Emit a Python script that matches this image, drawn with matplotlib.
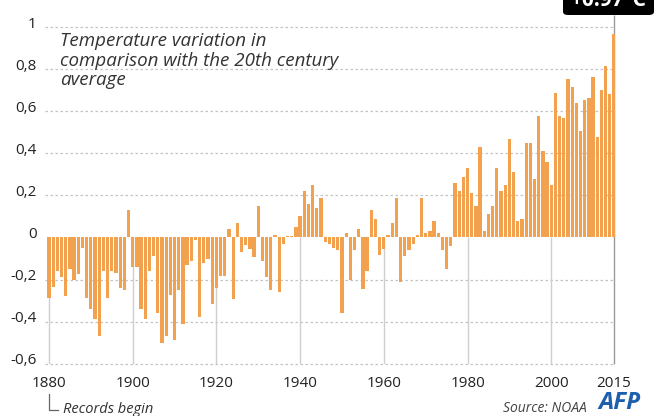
import matplotlib
matplotlib.use("Agg")
import matplotlib.pyplot as plt
from matplotlib.patches import FancyBboxPatch
from matplotlib.transforms import ScaledTranslation

plt.rcParams['font.family'] = ['Open Sans', 'DejaVu Sans']

# temperature anomalies (deg C), one value per year
anom_1880s_1890s = [-0.29, -0.235, -0.16, -0.19, -0.28, -0.15, -0.2, -0.175, -0.05, -0.29,
                    -0.34, -0.39, -0.47, -0.16, -0.29, -0.16, -0.17, -0.24, -0.25, 0.13]
anom_1900s_1910s = [-0.14, -0.14, -0.34, -0.39, -0.16, -0.09, -0.36, -0.5, -0.47, -0.275,
                    -0.49, -0.25, -0.41, -0.13, -0.11, -0.01, -0.38, -0.12, -0.1, -0.315]
anom_1920s_1930s = [-0.24, -0.185, -0.185, 0.04, -0.295, 0.07, -0.07, -0.035, -0.055, -0.095,
                    0.15, -0.11, -0.19, -0.25, 0.01, -0.26, -0.03, 0.005, 0.005, 0.05]
anom_1940s_1950s = [0.1, 0.22, 0.16, 0.25, 0.14, 0.19, -0.02, -0.03, -0.05, -0.06,
                    -0.36, 0.02, -0.2, -0.06, 0.04, -0.245, -0.16, 0.13, 0.09, -0.085]
anom_1960s_1970s = [-0.055, 0.01, 0.07, 0.19, -0.21, -0.09, -0.06, -0.03, 0.01, 0.19,
                    0.02, 0.03, 0.08, 0.02, -0.06, -0.15, -0.04, 0.26, 0.22, 0.29]
anom_1980s_1990s = [0.33, 0.21, 0.15, 0.43, 0.03, 0.11, 0.15, 0.33, 0.22, 0.25,
                    0.47, 0.31, 0.08, 0.09, 0.45, 0.45, 0.28, 0.58, 0.41, 0.36]
anom_2000s_2010s = [0.25, 0.69, 0.58, 0.57, 0.755, 0.715, 0.64, 0.505, 0.655, 0.665,
                    0.765, 0.48, 0.70, 0.815, 0.685, 0.97]

years = list(range(1880, 2016))
anomalies = (anom_1880s_1890s + anom_1900s_1910s + anom_1920s_1930s + anom_1940s_1950s
             + anom_1960s_1970s + anom_1980s_1990s + anom_2000s_2010s)

x_ticks = [1880, 1900, 1920, 1940, 1960, 1980, 2000, 2015]
y_ticks = [-0.6, -0.4, -0.2, 0, 0.2, 0.4, 0.6, 0.8, 1.0]
y_labels = ['-0,6', '-0,4', '-0,2', '0', '0,2', '0,4', '0,6', '0,8', '1']

W, H = 656, 416
fig = plt.figure(figsize=(W / 100, H / 100), dpi=100)
ax = fig.add_axes([44.8 / W, 1 - 363.5 / H, 570.5 / W, 336 / H])
ax.set_xlim(1879.0, 2015.3)
ax.set_ylim(-0.6, 1.0)

for s in ax.spines.values():
    s.set_visible(False)

# dotted gridlines
for y in y_ticks:
    if y != 0:
        ax.axhline(y, color='#c4c4c4', lw=0.9, ls=(0, (2, 2)), zorder=0, clip_on=False)

# vertical year markers from the bottom up to zero
ax.vlines(x_ticks[:-1], -0.6, 0, color='#cfcfcf', lw=1, zorder=0)
ax.vlines(2015, -0.6, 1.06, color='#9a9a9a', lw=1, zorder=0, clip_on=False)

ax.bar(years, anomalies, width=0.78, color='#f2a24e', zorder=2, linewidth=0)

ax.set_xticks(x_ticks)
ax.set_xticklabels([str(t) for t in x_ticks])
ax.set_yticks(y_ticks)
ax.set_yticklabels(y_labels)
ax.tick_params(axis='both', length=0, labelsize=11, colors='#222222')
ax.tick_params(axis='x', pad=9)
ax.tick_params(axis='y', pad=6)
for lab in ax.get_yticklabels():
    lab.set_transform(lab.get_transform() + ScaledTranslation(0, 5 / 100, fig.dpi_scale_trans))

# "Records begin" marker
ax.plot([1880, 1880, 1882.1], [-0.745, -0.82, -0.82], color='#666666', lw=0.9, clip_on=False)
ax.text(1883.3, -0.82, 'Records begin', fontsize=10.5, style='italic', color='#333333',
        va='center', ha='left', clip_on=False)

fig.text(60 / W, 1 - 32 / H, 'Temperature variation in\ncomparison with the 20th century\naverage',
         fontsize=13.5, style='italic', color='#333333', va='top', ha='left', linespacing=1.12)

# label box for 2015 value, cut off by the top edge as in the original
box = FancyBboxPatch((563 / W, 1 - 15 / H), 91 / W, 40 / H,
                     boxstyle='round,pad=0,rounding_size=0.008',
                     transform=fig.transFigure, facecolor='black', edgecolor='none')
fig.add_artist(box)
fig.text(608 / W, 1 - 1 / H, '+0.97°C', color='white', fontsize=15, fontweight='bold',
         ha='center', va='center')

fig.text(587 / W, 1 - 408 / H, 'Source: NOAA', fontsize=10, style='italic', color='#444444',
         ha='right', va='center')
fig.text(620 / W, 1 - 403 / H, 'AFP', fontsize=17.5, style='italic', fontweight='bold',
         color='#1d5fae', ha='center', va='center')

fig.savefig('out.png', dpi=100)
